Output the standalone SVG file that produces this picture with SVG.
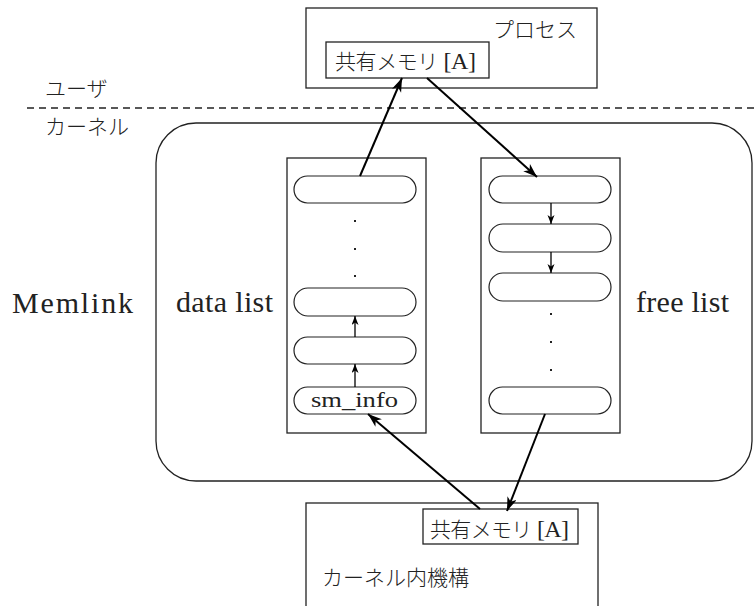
<svg xmlns="http://www.w3.org/2000/svg" width="755" height="606" viewBox="0 0 755 606">
  <style>
    .box { fill: #ffffff; stroke: #222222; stroke-width: 1.3; }
    .pill { fill: #ffffff; stroke: #222222; stroke-width: 1.2; }
    .jp { font-family: "Noto Sans CJK JP", "Noto Sans", sans-serif; font-size: 21px; font-weight: 300; fill: #222222; }
    .lat { font-family: "Liberation Serif", serif; font-weight: normal; fill: #222222; }
    .link { stroke: #000000; stroke-width: 2; fill: none; marker-end: url(#head); }
    .step { stroke: #000000; stroke-width: 1.3; fill: none; marker-end: url(#headSmall); }
    .dot { fill: #222222; }
  </style>
  <defs>
    <marker id="head" markerUnits="userSpaceOnUse" markerWidth="16" markerHeight="12" refX="14" refY="5" orient="auto">
      <path d="M0,0 L14,5 L0,10 L4,5 z" fill="#000000"/>
    </marker>
    <marker id="headSmall" markerUnits="userSpaceOnUse" markerWidth="12" markerHeight="10" refX="9" refY="3.5" orient="auto">
      <path d="M0,0 L9,3.5 L0,7 L2.5,3.5 z" fill="#000000"/>
    </marker>
  </defs>

  <!-- user / kernel boundary -->
  <g id="boundary">
    <line x1="27" y1="108" x2="755" y2="108" stroke="#222222" stroke-width="1.5" stroke-dasharray="7,5"/>
    <text class="jp" x="45" y="96">ユーザ</text>
    <text class="jp" x="45" y="134">カーネル</text>
  </g>

  <!-- user process -->
  <g id="process">
    <rect class="box" x="306" y="8" width="291" height="80"/>
    <text class="jp" x="493" y="37">プロセス</text>
  </g>
  <g id="shm-user">
    <rect class="box" x="326" y="42" width="163" height="36"/>
    <text class="jp" x="335" y="69" textLength="141" lengthAdjust="spacing">共有メモリ<tspan class="lat" font-size="24"> [A]</tspan></text>
  </g>

  <!-- memlink module -->
  <g id="memlink">
    <rect class="box" x="156" y="123" width="596" height="358" rx="40" ry="40"/>
    <text class="lat" x="12" y="313" font-size="30" textLength="121" lengthAdjust="spacing">Memlink</text>
    <text class="lat" x="176" y="312" font-size="30" textLength="97" lengthAdjust="spacing">data list</text>
    <text class="lat" x="636" y="312" font-size="30" textLength="93" lengthAdjust="spacing">free list</text>
  </g>

  <g id="data-list">
    <rect class="box" x="287" y="158" width="139" height="275"/>
    <rect class="pill" x="294" y="176" width="122" height="27" rx="13.5"/>
    <rect class="dot" x="354" y="220" width="2" height="2"/>
    <rect class="dot" x="354" y="248" width="2" height="2"/>
    <rect class="dot" x="354" y="275" width="2" height="2"/>
    <rect class="pill" x="294" y="288" width="122" height="28" rx="14"/>
    <rect class="pill" x="294" y="337" width="122" height="27" rx="13.5"/>
    <rect class="pill" x="294" y="387" width="122" height="27" rx="13.5"/>
    <text class="lat" x="311" y="407" font-size="21" textLength="87" lengthAdjust="spacingAndGlyphs">sm_info</text>
  </g>

  <g id="free-list">
    <rect class="box" x="481" y="158" width="139" height="275"/>
    <rect class="pill" x="489" y="176" width="122" height="27" rx="13.5"/>
    <rect class="pill" x="489" y="224" width="122" height="28" rx="14"/>
    <rect class="pill" x="489" y="273" width="122" height="28" rx="14"/>
    <rect class="dot" x="550" y="313" width="2" height="2"/>
    <rect class="dot" x="550" y="341" width="2" height="2"/>
    <rect class="dot" x="550" y="369" width="2" height="2"/>
    <rect class="pill" x="489" y="387" width="122" height="27" rx="13.5"/>
  </g>

  <!-- in-kernel mechanism -->
  <g id="kernel-mech">
    <rect class="box" x="306" y="503" width="292" height="120"/>
    <text class="jp" x="322" y="585" font-size="22">カーネル内機構</text>
  </g>
  <g id="shm-kernel">
    <rect class="box" x="423" y="509" width="155" height="35"/>
    <text class="jp" x="430" y="537" textLength="139" lengthAdjust="spacing">共有メモリ<tspan class="lat" font-size="24"> [A]</tspan></text>
  </g>

  <!-- connectors -->
  <g id="connectors">
    <line class="link" x1="360" y1="176" x2="402" y2="78"/>
    <line class="link" x1="427" y1="78" x2="537" y2="177"/>
    <line class="link" x1="545" y1="414" x2="507" y2="511"/>
    <line class="link" x1="480" y1="509" x2="368" y2="414"/>
    <line class="step" x1="355" y1="387" x2="355" y2="364"/>
    <line class="step" x1="355" y1="337" x2="355" y2="316"/>
    <line class="step" x1="551" y1="203" x2="551" y2="224"/>
    <line class="step" x1="551" y1="252" x2="551" y2="273"/>
  </g>
</svg>
